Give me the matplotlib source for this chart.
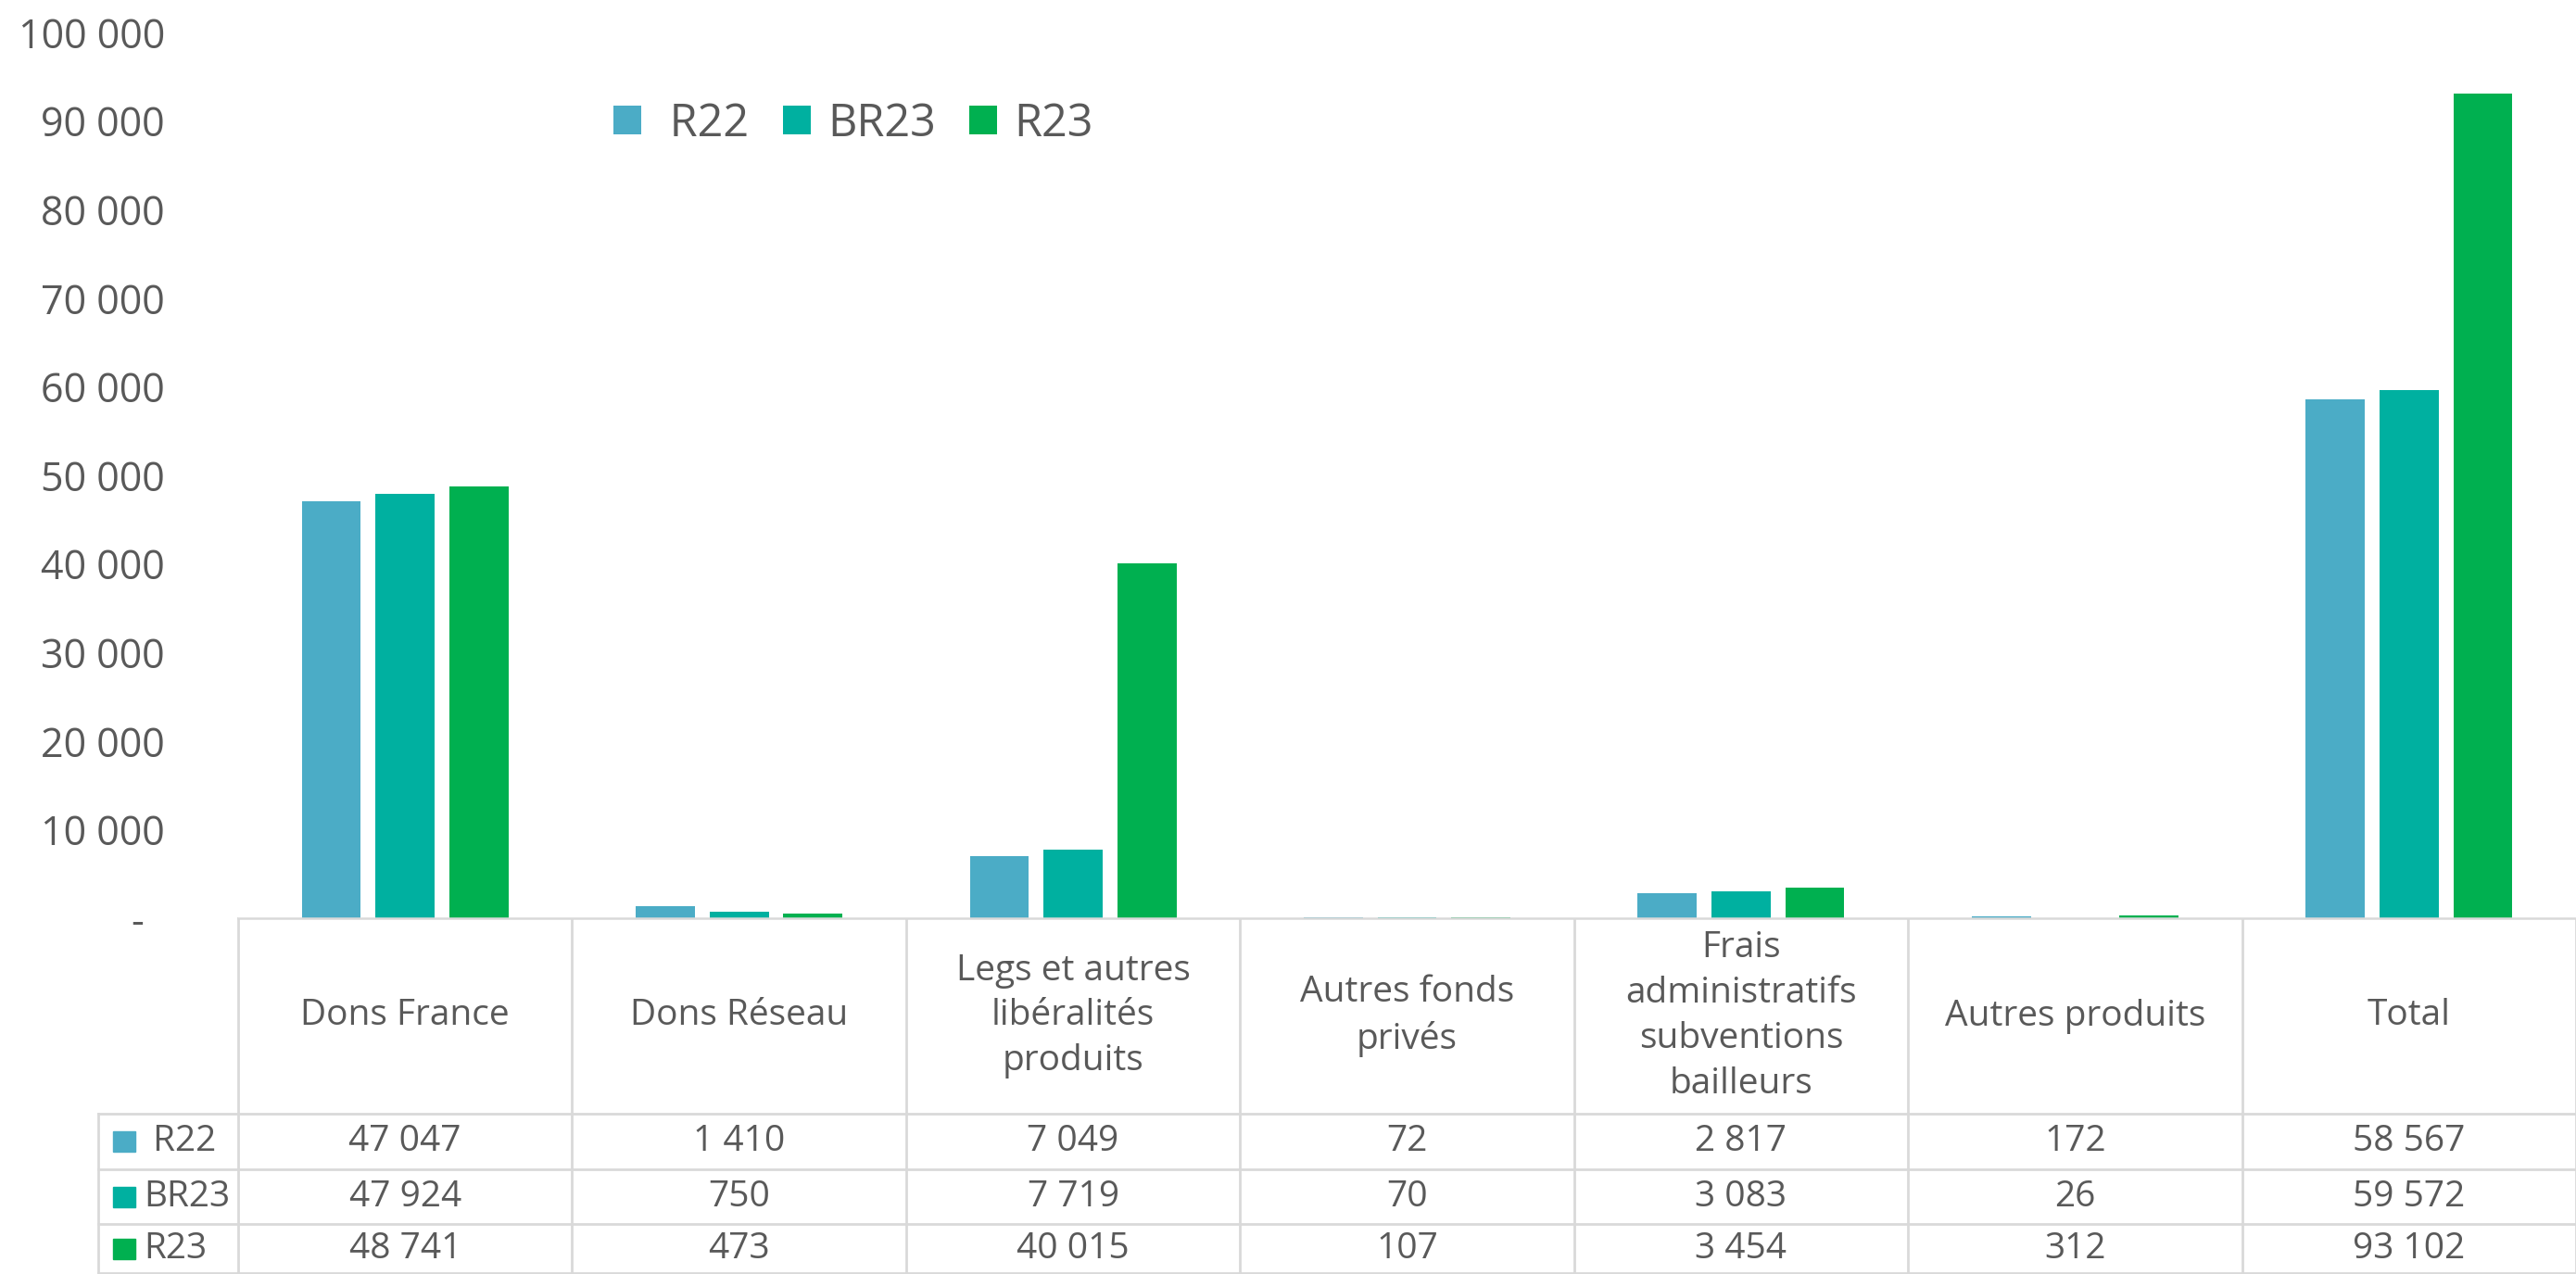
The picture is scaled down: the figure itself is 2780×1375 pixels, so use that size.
import numpy as np
import matplotlib
matplotlib.use("Agg")
import matplotlib.pyplot as plt
from matplotlib.patches import Rectangle

plt.rcParams['font.family'] = ['Open Sans', 'DejaVu Sans']

# data
categories = ["Dons France", "Dons Réseau", "Legs et autres\nlibéralités\nproduits",
              "Autres fonds\nprivés", "Frais\nadministratifs\nsubventions\nbailleurs",
              "Autres produits", "Total"]
series_names = [" R22", "BR23", "R23"]
r22 = [47047, 1410, 7049, 72, 2817, 172, 58567]
br23 = [47924, 750, 7719, 70, 3083, 26, 59572]
r23 = [48741, 473, 40015, 107, 3454, 312, 93102]
colors = ["#4BACC6", "#00B0A0", "#00B050"]
yticks = list(range(0, 100001, 10000))

TXT = "#595959"
GRID = "#D9D9D9"
W, H = 2780, 1375


def fmt(v, dash="-"):
    if v == 0:
        return dash
    return f"{v:,}".replace(",", " ")


fig = plt.figure(figsize=(W / 100, H / 100), dpi=100)

# pixel layout
x0, x1 = 257, 2780
y_base, y_top = 991, 35
ax = fig.add_axes([x0 / W, (H - y_base) / H, (x1 - x0) / W, (y_base - y_top) / H])

n = len(categories)
x = np.arange(n)
step, bw = 0.221, 0.177
for k, (vals, c) in enumerate(zip([r22, br23, r23], colors)):
    ax.bar(x + (k - 1) * step, vals, width=bw, color=c, label=series_names[k])

ax.set_xlim(-0.5, n - 0.5)
ax.set_ylim(0, 100000)
ax.set_yticks(yticks)
ax.set_yticklabels([fmt(v, "-  ") for v in yticks])
ax.tick_params(axis='y', length=0, pad=57, labelsize=31, labelcolor=TXT)
ax.set_xticks([])
for s in ax.spines.values():
    s.set_visible(False)
ax.spines['bottom'].set_visible(True)
ax.spines['bottom'].set_color(GRID)
ax.spines['bottom'].set_linewidth(1.8)
ax.spines['bottom'].set_zorder(5)

leg = ax.legend(loc="center left", bbox_to_anchor=(662 / W, 1 - 134 / H),
                bbox_transform=fig.transFigure, ncol=3, frameon=False,
                fontsize=35, handlelength=0.62, handleheight=0.62,
                handletextpad=0.37, columnspacing=0.75, labelcolor=TXT,
                borderpad=0, borderaxespad=0)

# data table drawn in pixel coordinates
tb = fig.add_axes([0, 0, 1, 1], zorder=-1)
tb.set_xlim(0, W)
tb.set_ylim(H, 0)
tb.axis("off")

col_w = (x1 - x0) / n
row_lines = [991, 1202, 1262, 1321, 1374]
left = 106
lw = 2
for yl in row_lines[1:]:
    tb.plot([left, x1], [yl, yl], color=GRID, lw=lw)
for i in range(n + 1):
    xc = x0 + i * col_w
    tb.plot([xc, xc], [row_lines[0], H], color=GRID, lw=lw)
tb.plot([left, left], [row_lines[1], H], color=GRID, lw=lw)

head_y = (row_lines[0] + row_lines[1]) / 2
for i, cat in enumerate(categories):
    tb.text(x0 + (i + 0.5) * col_w, head_y, cat, ha="center", va="center",
            fontsize=28, color=TXT, linespacing=1.37)

for r, (name, vals, c) in enumerate(zip(series_names, [r22, br23, r23], colors)):
    yc = (row_lines[r + 1] + row_lines[r + 2]) / 2
    tb.add_patch(Rectangle((122, yc - 11), 24, 22, color=c))
    tb.text(155, yc, name, ha="left", va="center", fontsize=28, color=TXT)
    for i, v in enumerate(vals):
        tb.text(x0 + (i + 0.5) * col_w, yc, fmt(v), ha="center", va="center",
                fontsize=28, color=TXT)

fig.savefig("out.png", dpi=100)
